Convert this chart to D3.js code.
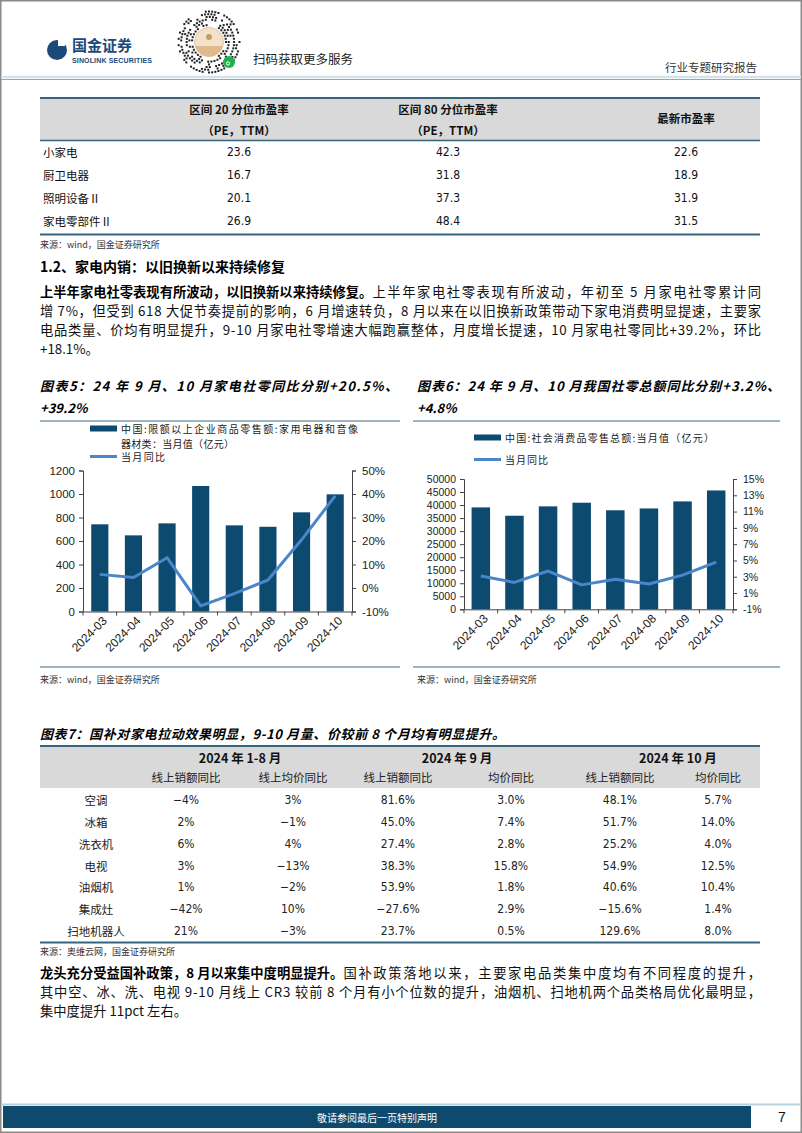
<!DOCTYPE html>
<html><head><meta charset="utf-8">
<script src="https://cdn.jsdelivr.net/npm/d3@7"></script>
<style>
html,body{margin:0;padding:0;background:#fff;}
svg{display:block;}
</style></head><body>
<script>
// ---------- DATA ----------
const peCategories = ["小家电", "厨卫电器", "照明设备Ⅱ", "家电零部件Ⅱ"];
const pe20 = [23.6, 16.7, 20.1, 26.9];
const pe80 = [42.3, 31.8, 37.3, 48.4];
const peLatest = [22.6, 18.9, 31.9, 31.5];

const months = ["2024-03", "2024-04", "2024-05", "2024-06", "2024-07", "2024-08", "2024-09", "2024-10"];
const applianceSales = [742, 648, 750, 1068, 733, 721, 844, 997];
const applianceYoy = [5.8, 4.5, 12.9, -7.6, -2.4, 3.4, 20.5, 39.2];
const applianceLeftTicks = [0, 200, 400, 600, 800, 1000, 1200];
const applianceRightTicks = [-10, 0, 10, 20, 30, 40, 50];

const retailSales = [39100, 35900, 39500, 40900, 38000, 38700, 41400, 45600];
const retailYoy = [3.1, 2.3, 3.7, 2.0, 2.7, 2.1, 3.2, 4.8];
const retailLeftTicks = [0, 5000, 10000, 15000, 20000, 25000, 30000, 35000, 40000, 45000, 50000];
const retailRightTicks = [-1, 1, 3, 5, 7, 9, 11, 13, 15];

const products = ["空调", "冰箱", "洗衣机", "电视", "油烟机", "集成灶", "扫地机器人"];
const ytdSalesYoy = [-4, 2, 6, 3, 1, -42, 21];
const ytdPriceYoy = [3, -1, 4, -13, -2, 10, -3];
const sepSalesYoy = [81.6, 45.0, 27.4, 38.3, 53.9, -27.6, 23.7];
const sepPriceYoy = [3.0, 7.4, 2.8, 15.8, 1.8, 2.9, 0.5];
const octSalesYoy = [48.1, 51.7, 25.2, 54.9, 40.6, -15.6, 129.6];
const octPriceYoy = [5.7, 14.0, 4.0, 12.5, 10.4, 1.4, 8.0];

// ---------- SETUP ----------
const W = 802, H = 1133;
const CJK = '"Noto Sans CJK SC","Noto Sans",sans-serif';
const NUM = '"Liberation Sans Narrow","DejaVu Sans Condensed","Liberation Sans",sans-serif';
const ARIAL = '"Liberation Sans",Arial,sans-serif';
const NAVY = "#0d4a70";
const LINEBLUE = "#4a86c8";
const RULE = "#34647e";

const svg = d3.select("body").append("svg").attr("width", W).attr("height", H)
  .attr("viewBox", `0 0 ${W} ${H}`);

function txt(x, y, s, o = {}) {
  const t = svg.append("text").attr("x", x).attr("y", y).text(s)
    .attr("dominant-baseline", "central")
    .attr("font-family", o.family || CJK)
    .attr("font-size", o.size || 12)
    .attr("fill", o.fill || "#111")
    .attr("text-anchor", o.anchor || "start");
  if (o.weight) t.attr("font-weight", o.weight);
  if (o.italic) t.attr("font-style", "italic");
  if (o.len) t.attr("textLength", o.len).attr("lengthAdjust", o.adjust || "spacing");
  if (o.ls) t.attr("letter-spacing", o.ls);
  return t;
}
function hline(x1, x2, y, c, w) {
  svg.append("line").attr("x1", x1).attr("x2", x2).attr("y1", y).attr("y2", y)
    .attr("stroke", c).attr("stroke-width", w);
}
// paragraph line: optional bold lead + normal, justified to x1
function pline(y, bold, normal, x0, x1, justify, size) {
  let x = x0;
  if (bold) {
    const b = txt(x0, y, bold, { size, weight: "bold", fill: "#000" });
    x = x0 + b.node().getComputedTextLength();
  }
  const n = txt(x, y, normal, { size, fill: "#111" });
  if (justify) n.attr("textLength", x1 - x).attr("lengthAdjust", "spacing");
}

// ---------- PAGE FRAME ----------
svg.append("rect").attr("x", 0.75).attr("y", 0.75).attr("width", W - 1.5).attr("height", H - 1.5)
  .attr("fill", "none").attr("stroke", "#8a8a8a").attr("stroke-width", 1.5);

// ---------- HEADER ----------
svg.append("circle").attr("cx", 57).attr("cy", 50).attr("r", 10).attr("fill", "#1b4a7a");
svg.append("rect").attr("x", 58).attr("y", 40).attr("width", 7).attr("height", 6).attr("fill", "#fff");
txt(72, 44.5, "国金证券", { size: 15, weight: "bold", fill: "#1b4a7a" });
txt(72, 60, "SINOLINK SECURITIES", { size: 7, weight: "bold", fill: "#1b4a7a", family: ARIAL, len: 80 });

// mini-program code (decorative)
const qc = { x: 209, y: 42 };
const qr = svg.append("g");
for (let k = 0; k < 6; k++) {
  const r = 17 + k * 2.7;
  const nA = Math.round(2 * Math.PI * r / 3.2);
  for (let a = 0; a < nA; a++) {
    if (((k * 73 + a * 151 + (a * a) % 11) % 7) < 4) {
      const ang = a / nA * 2 * Math.PI;
      qr.append("rect").attr("x", qc.x + r * Math.cos(ang) - 1).attr("y", qc.y + r * Math.sin(ang) - 1)
        .attr("width", 2).attr("height", 2).attr("fill", "#222");
    }
  }
}
qr.append("circle").attr("cx", qc.x).attr("cy", qc.y).attr("r", 14.5).attr("fill", "#f3e1cc").attr("stroke", "#e3c6a4");
qr.append("path").attr("d", `M${qc.x - 14},${qc.y + 4} A14.5,14.5 0 0 0 ${qc.x + 14},${qc.y + 4} Z`).attr("fill", "#e0b98d");
qr.append("circle").attr("cx", qc.x).attr("cy", qc.y - 5).attr("r", 3).attr("fill", "#c99a62");
qr.append("circle").attr("cx", 229).attr("cy", 62).attr("r", 6).attr("fill", "#21b14b");
qr.append("circle").attr("cx", 228).attr("cy", 63.5).attr("r", 1.6).attr("fill", "none").attr("stroke", "#fff").attr("stroke-width", 1);

txt(253, 58, "扫码获取更多服务", { size: 12.5, fill: "#222" });
txt(757, 67, "行业专题研究报告", { size: 11.5, fill: "#333", anchor: "end" });
hline(1, W - 1, 77, "#d4e4ec", 2.5);
hline(1, W - 1, 79.5, "#9aa6ad", 1);

// ---------- TABLE 1 ----------
svg.append("rect").attr("x", 40).attr("y", 98).attr("width", 720).attr("height", 42).attr("fill", "#d9d9d9");
hline(40, 760, 98, RULE, 2);
hline(40, 760, 140.5, RULE, 1.5);
const t1x = [239, 448, 686];
txt(t1x[0], 109, "区间 20 分位市盈率", { size: 11.5, anchor: "middle", weight: "bold" });
txt(t1x[0], 130, "（PE，TTM）", { size: 11.5, anchor: "middle", weight: "bold" });
txt(t1x[1], 109, "区间 80 分位市盈率", { size: 11.5, anchor: "middle", weight: "bold" });
txt(t1x[1], 130, "（PE，TTM）", { size: 11.5, anchor: "middle", weight: "bold" });
txt(t1x[2], 118, "最新市盈率", { size: 11.5, anchor: "middle", weight: "bold" });
const t1y = d3.scalePoint().domain(peCategories).range([152, 221]);
peCategories.forEach((c, i) => {
  const y = t1y(c);
  txt(43, y, c, { size: 11.5 });
  txt(t1x[0], y, pe20[i].toFixed(1), { size: 12, anchor: "middle", family: NUM });
  txt(t1x[1], y, pe80[i].toFixed(1), { size: 12, anchor: "middle", family: NUM });
  txt(t1x[2], y, peLatest[i].toFixed(1), { size: 12, anchor: "middle", family: NUM });
});
hline(40, 760, 234.5, RULE, 2);
txt(40, 244, "来源：wind，国金证券研究所", { size: 9, fill: "#333" });

// ---------- SECTION TEXT ----------
txt(40, 266, "1.2、家电内销：以旧换新以来持续修复", { size: 14, weight: "bold", fill: "#000" });
const PS = 13.3;
pline(291, "上半年家电社零表现有所波动，以旧换新以来持续修复。", "上半年家电社零表现有所波动，年初至 5 月家电社零累计同", 40, 761, true, PS);
pline(310, null, "增 7%，但受到 618 大促节奏提前的影响，6 月增速转负，8 月以来在以旧换新政策带动下家电消费明显提速，主要家", 40, 761, true, PS);
pline(329, null, "电品类量、价均有明显提升，9-10 月家电社零增速大幅跑赢整体，月度增长提速，10 月家电社零同比+39.2%，环比", 40, 761, true, PS);
pline(348, null, "+18.1%。", 40, 761, false, PS);

// ---------- CHART TITLES ----------
txt(40, 385, "图表5：24 年 9 月、10 月家电社零同比分别+20.5%、", { size: 13, weight: "bold", italic: true, fill: "#000", len: 358 });
txt(40, 407, "+39.2%", { size: 13, weight: "bold", italic: true, fill: "#000" });
txt(417, 385, "图表6：24 年 9 月、10 月我国社零总额同比分别+3.2%、", { size: 13, weight: "bold", italic: true, fill: "#000", len: 363 });
txt(417, 407, "+4.8%", { size: 13, weight: "bold", italic: true, fill: "#000" });
hline(40, 400, 421, "#3f6f88", 1.2);
hline(413, 780, 421, "#3f6f88", 1.2);

// ---------- COMBO CHART ----------
function combo(cfg) {
  const g = svg.append("g");
  const x = d3.scaleBand().domain(months).range([cfg.x0, cfg.x1]).paddingInner(cfg.pad).paddingOuter(cfg.pad / 2);
  const yL = d3.scaleLinear().domain(cfg.leftDomain).range([cfg.yb, cfg.yt]);
  const yR = d3.scaleLinear().domain(cfg.rightDomain).range([cfg.yb, cfg.yt]);

  // bars
  g.selectAll("rect.bar").data(cfg.bars).join("rect").attr("class", "bar")
    .attr("x", (d, i) => x(months[i])).attr("width", x.bandwidth())
    .attr("y", d => yL(d)).attr("height", d => cfg.yb - yL(d)).attr("fill", NAVY);

  // line
  const line = d3.line().x((d, i) => x(months[i]) + x.bandwidth() / 2).y(d => yR(d));
  g.append("path").datum(cfg.line).attr("d", line).attr("fill", "none")
    .attr("stroke", LINEBLUE).attr("stroke-width", 3).attr("stroke-linejoin", "round");

  // left axis
  const aL = g.append("g").attr("transform", `translate(${cfg.x0},0)`)
    .call(d3.axisLeft(yL).tickValues(cfg.leftTicks).tickSize(4).tickPadding(4).tickFormat(d3.format("d")));
  // right axis
  const aR = g.append("g").attr("transform", `translate(${cfg.x1},0)`)
    .call(d3.axisRight(yR).tickValues(cfg.rightTicks).tickSize(4).tickPadding(6).tickFormat(d => d + "%"));
  [aL, aR].forEach(a => {
    a.selectAll("text").attr("font-family", ARIAL).attr("font-size", cfg.tickSize).attr("fill", "#222");
    a.selectAll("line,path").attr("stroke", "#444");
  });
  // bottom axis
  const bAxis = d3.axisBottom(x).tickSize(0).tickFormat("");
  const aB = g.append("g").attr("transform", `translate(0,${cfg.yb})`).call(bAxis);
  aB.select("path").attr("stroke", "#444");
  const step = x.step();
  d3.range(months.length + 1).forEach(i => {
    const bx = cfg.x0 + i * step;
    g.append("line").attr("x1", bx).attr("x2", bx).attr("y1", cfg.yb).attr("y2", cfg.yb + 4).attr("stroke", "#444");
  });
  months.forEach(m => {
    const cx = x(m) + x.bandwidth() / 2 + 5;
    const cy = cfg.yb + 7;
    g.append("text").attr("transform", `translate(${cx},${cy}) rotate(-45)`)
      .attr("text-anchor", "end").attr("dy", "0.35em")
      .attr("font-family", ARIAL).attr("font-size", 12).attr("fill", "#222").text(m);
  });

  // legend
  cfg.legend.forEach(L => {
    if (L.type === "bar") {
      g.append("rect").attr("x", L.x).attr("y", L.y - 3).attr("width", 27).attr("height", 6).attr("fill", NAVY);
    } else {
      g.append("line").attr("x1", L.x).attr("x2", L.x + 27).attr("y1", L.y).attr("y2", L.y)
        .attr("stroke", LINEBLUE).attr("stroke-width", 3);
    }
    L.lines.forEach((s, j) => {
      txt(L.x + 31, L.y + j * 14.5, s[0], { size: 10, fill: "#222", len: s[1] });
    });
  });
}

combo({
  x0: 83, x1: 352, yb: 611.5, yt: 470.5, pad: 0.49,
  leftDomain: [0, 1200], rightDomain: [-10, 50],
  leftTicks: applianceLeftTicks, rightTicks: applianceRightTicks,
  bars: applianceSales, line: applianceYoy, tickSize: 11.5,
  legend: [
    { type: "bar", x: 90, y: 428.5, lines: [["中国:限额以上企业商品零售额:家用电器和音像", 237], ["器材类：当月值（亿元）", 113]] },
    { type: "line", x: 90, y: 456.5, lines: [["当月同比", 44]] }
  ]
});
combo({
  x0: 464, x1: 733, yb: 609.3, yt: 479, pad: 0.45,
  leftDomain: [0, 50000], rightDomain: [-1, 15],
  leftTicks: retailLeftTicks, rightTicks: retailRightTicks,
  bars: retailSales, line: retailYoy, tickSize: 10.5,
  legend: [
    { type: "bar", x: 474, y: 437.5, lines: [["中国:社会消费品零售总额:当月值（亿元）", 209]] },
    { type: "line", x: 474, y: 459.5, lines: [["当月同比", 43]] }
  ]
});

hline(40, 400, 667, "#3f6f88", 1.2);
hline(413, 780, 667, "#3f6f88", 1.2);
txt(40, 679, "来源：wind，国金证券研究所", { size: 9, fill: "#333" });
txt(417, 679, "来源：wind，国金证券研究所", { size: 9, fill: "#333" });

// ---------- TABLE 7 ----------
txt(40, 733, "图表7：国补对家电拉动效果明显，9-10 月量、价较前 8 个月均有明显提升。", { size: 13, weight: "bold", italic: true, fill: "#000", len: 465 });
svg.append("rect").attr("x", 40).attr("y", 746).attr("width", 720).attr("height", 42).attr("fill", "#d9d9d9");
hline(40, 760, 746, RULE, 2);
const groupX = [240, 457, 678];
["2024 年 1-8 月", "2024 年 9 月", "2024 年 10 月"].forEach((s, i) =>
  txt(groupX[i], 757, s, { size: 12.5, weight: "bold", anchor: "middle", fill: "#111" }));
const colX = [186, 293, 398, 511, 620, 718];
["线上销额同比", "线上均价同比", "线上销额同比", "均价同比", "线上销额同比", "均价同比"].forEach((s, i) =>
  txt(colX[i], 777, s, { size: 11.5, anchor: "middle", fill: "#222" }));
const t7y = d3.scalePoint().domain(products).range([800, 931]);
const cols = [
  [ytdSalesYoy, 0], [ytdPriceYoy, 0], [sepSalesYoy, 1], [sepPriceYoy, 1], [octSalesYoy, 1], [octPriceYoy, 1]
];
products.forEach((p, i) => {
  const y = t7y(p);
  txt(96, y, p, { size: 11.5, anchor: "middle", fill: "#222" });
  cols.forEach((c, j) => {
    const v = c[0][i];
    const s = (v < 0 ? "−" : "") + Math.abs(v).toFixed(c[1]) + "%";
    txt(colX[j], y, s, { size: 12, anchor: "middle", family: NUM, fill: "#222" });
  });
});
hline(40, 760, 942.5, RULE, 2);
txt(40, 951, "来源：奥维云网，国金证券研究所", { size: 9, fill: "#333" });

// ---------- BOTTOM TEXT ----------
pline(972, "龙头充分受益国补政策，8 月以来集中度明显提升。", "国补政策落地以来，主要家电品类集中度均有不同程度的提升，", 40, 761, true, PS);
pline(991, null, "其中空、冰、洗、电视 9-10 月线上 CR3 较前 8 个月有小个位数的提升，油烟机、扫地机两个品类格局优化最明显，", 40, 761, true, PS);
pline(1010, null, "集中度提升 11pct 左右。", 40, 761, false, PS);

// ---------- FOOTER ----------
hline(1, W - 1, 1104.5, "#b7d3df", 2);
svg.append("rect").attr("x", 3).attr("y", 1106).attr("width", 748).attr("height", 22).attr("fill", "#0e4a6e");
txt(377, 1117, "敬请参阅最后一页特别声明", { size: 10, anchor: "middle", fill: "#fff" });
txt(782, 1117, "7", { size: 14, anchor: "middle", family: ARIAL, fill: "#111" });
</script>
</body></html>
